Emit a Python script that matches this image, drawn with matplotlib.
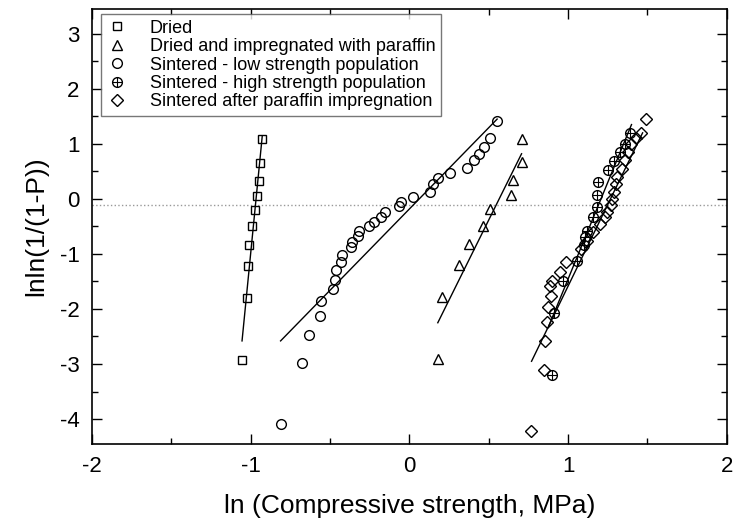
import matplotlib.pyplot as plt
from matplotlib.ticker import MultipleLocator
from matplotlib.legend_handler import HandlerTuple

plt.rcParams['font.family'] = ['Liberation Sans', 'DejaVu Sans']
plt.rcParams['axes.unicode_minus'] = False

# Dried
dried_x = [-0.928, -0.939, -0.949, -0.960, -0.975, -0.992, -1.008, -1.017, -1.023, -1.055]
dried_y = [1.09, 0.65, 0.33, 0.06, -0.21, -0.50, -0.83, -1.22, -1.80, -2.92]
dried_fit_x = [-1.055, -0.928]
dried_fit_y = [-2.58, 1.13]

# Dried and impregnated with paraffin
impr_x = [0.707, 0.707, 0.654, 0.639, 0.511, 0.464, 0.375, 0.312, 0.207, 0.179]
impr_y = [1.09, 0.67, 0.35, 0.07, -0.19, -0.50, -0.82, -1.21, -1.79, -2.91]
impr_fit_x = [0.179, 0.707]
impr_fit_y = [-2.25, 0.82]

# Sintered - low strength population
low_x = [0.553, 0.506, 0.468, 0.439, 0.405, 0.363, 0.257, 0.179, 0.148, 0.127,
         0.021, -0.053, -0.063, -0.152, -0.179, -0.222, -0.253, -0.316, -0.327,
         -0.359, -0.369, -0.422, -0.432, -0.464, -0.470, -0.481, -0.559, -0.563,
         -0.633, -0.675, -0.812]
low_y = [1.42, 1.10, 0.94, 0.82, 0.70, 0.56, 0.47, 0.38, 0.27, 0.13,
         0.03, -0.06, -0.13, -0.24, -0.33, -0.42, -0.50, -0.59, -0.67,
         -0.78, -0.88, -1.02, -1.14, -1.30, -1.47, -1.64, -1.85, -2.12,
         -2.47, -2.99, -4.09]
low_fit_x = [-0.812, 0.553]
low_fit_y = [-2.58, 1.45]

# Sintered - high strength population
high_x = [1.39, 1.36, 1.33, 1.29, 1.255, 1.19, 1.18, 1.18, 1.16, 1.12, 1.11,
          1.10, 1.055, 0.966, 0.91, 0.897]
high_y = [1.20, 1.00, 0.85, 0.68, 0.52, 0.30, 0.07, -0.15, -0.33, -0.58, -0.70,
          -0.84, -1.12, -1.50, -2.07, -3.20]
high_fit_x = [0.88, 1.40]
high_fit_y = [-2.30, 1.35]

# Sintered after paraffin impregnation
after_x = [1.49, 1.46, 1.43, 1.40, 1.38, 1.36, 1.34, 1.31, 1.30, 1.29, 1.28,
           1.27, 1.245, 1.23, 1.20, 1.16, 1.12, 1.08, 0.99, 0.95, 0.90, 0.886,
           0.89, 0.875, 0.865, 0.854, 0.848, 0.764]
after_y = [1.45, 1.20, 1.10, 1.00, 0.85, 0.70, 0.55, 0.39, 0.27, 0.12, 0.00,
           -0.12, -0.24, -0.33, -0.45, -0.61, -0.76, -0.91, -1.15, -1.33, -1.49,
           -1.58, -1.76, -1.97, -2.24, -2.59, -3.10, -4.21]
after_fit_x = [0.77, 1.47]
after_fit_y = [-2.95, 1.20]

ref_y = -0.11

fig = plt.figure(figsize=(7.37, 5.29), dpi=100)
ax = fig.add_axes([0.125, 0.161, 0.861, 0.822])

mk = dict(linestyle='none', markerfacecolor='none', markeredgecolor='black',
          markeredgewidth=1.0)
h_dried, = ax.plot(dried_x, dried_y, marker='s', markersize=6, **mk)
h_impr, = ax.plot(impr_x, impr_y, marker='^', markersize=7, **mk)
h_low, = ax.plot(low_x, low_y, marker='o', markersize=7, **mk)
h_high_o, = ax.plot(high_x, high_y, marker='o', markersize=7,
                    linestyle='none', markerfacecolor='white',
                    markeredgecolor='black', markeredgewidth=1.0)
h_high_p, = ax.plot(high_x, high_y, marker='+', markersize=7,
                    linestyle='none', color='black', markeredgewidth=0.8)
h_after, = ax.plot(after_x, after_y, marker='D', markersize=6, **mk)

for fx, fy in [(dried_fit_x, dried_fit_y), (impr_fit_x, impr_fit_y),
               (low_fit_x, low_fit_y), (high_fit_x, high_fit_y),
               (after_fit_x, after_fit_y)]:
    ax.plot(fx, fy, color='black', linewidth=1.0)

ax.axhline(ref_y, color='#999999', linestyle=':', linewidth=1.0, zorder=0)

ax.set_xlim(-2, 2)
ax.set_ylim(-4.45, 3.45)
ax.xaxis.set_major_locator(MultipleLocator(1))
ax.xaxis.set_minor_locator(MultipleLocator(0.5))
ax.yaxis.set_major_locator(MultipleLocator(1))
ax.yaxis.set_minor_locator(MultipleLocator(0.5))
ax.tick_params(which='both', direction='in', top=True, right=True,
               labelsize=16, width=1.0)
ax.tick_params(which='major', length=7, pad=9)
ax.tick_params(which='minor', length=4)
for s in ax.spines.values():
    s.set_linewidth(1.2)

ax.set_xlabel('ln (Compressive strength, MPa)', fontsize=19, labelpad=12)
ax.set_ylabel('lnln(1/(1-P))', fontsize=19, labelpad=8)

leg = ax.legend([h_dried, h_impr, h_low, (h_high_o, h_high_p), h_after],
                ['Dried', 'Dried and impregnated with paraffin',
                 'Sintered - low strength population',
                 'Sintered - high strength population',
                 'Sintered after paraffin impregnation'],
                handler_map={tuple: HandlerTuple(ndivide=1)},
                loc='upper left', bbox_to_anchor=(0.014, 0.988), fontsize=13,
                frameon=True, fancybox=False, edgecolor='#555555',
                handlelength=1.2, handletextpad=1.2, borderpad=0.3,
                labelspacing=0.08, borderaxespad=0)
leg.get_frame().set_linewidth(1.0)

fig.savefig('out.png', dpi=100)
